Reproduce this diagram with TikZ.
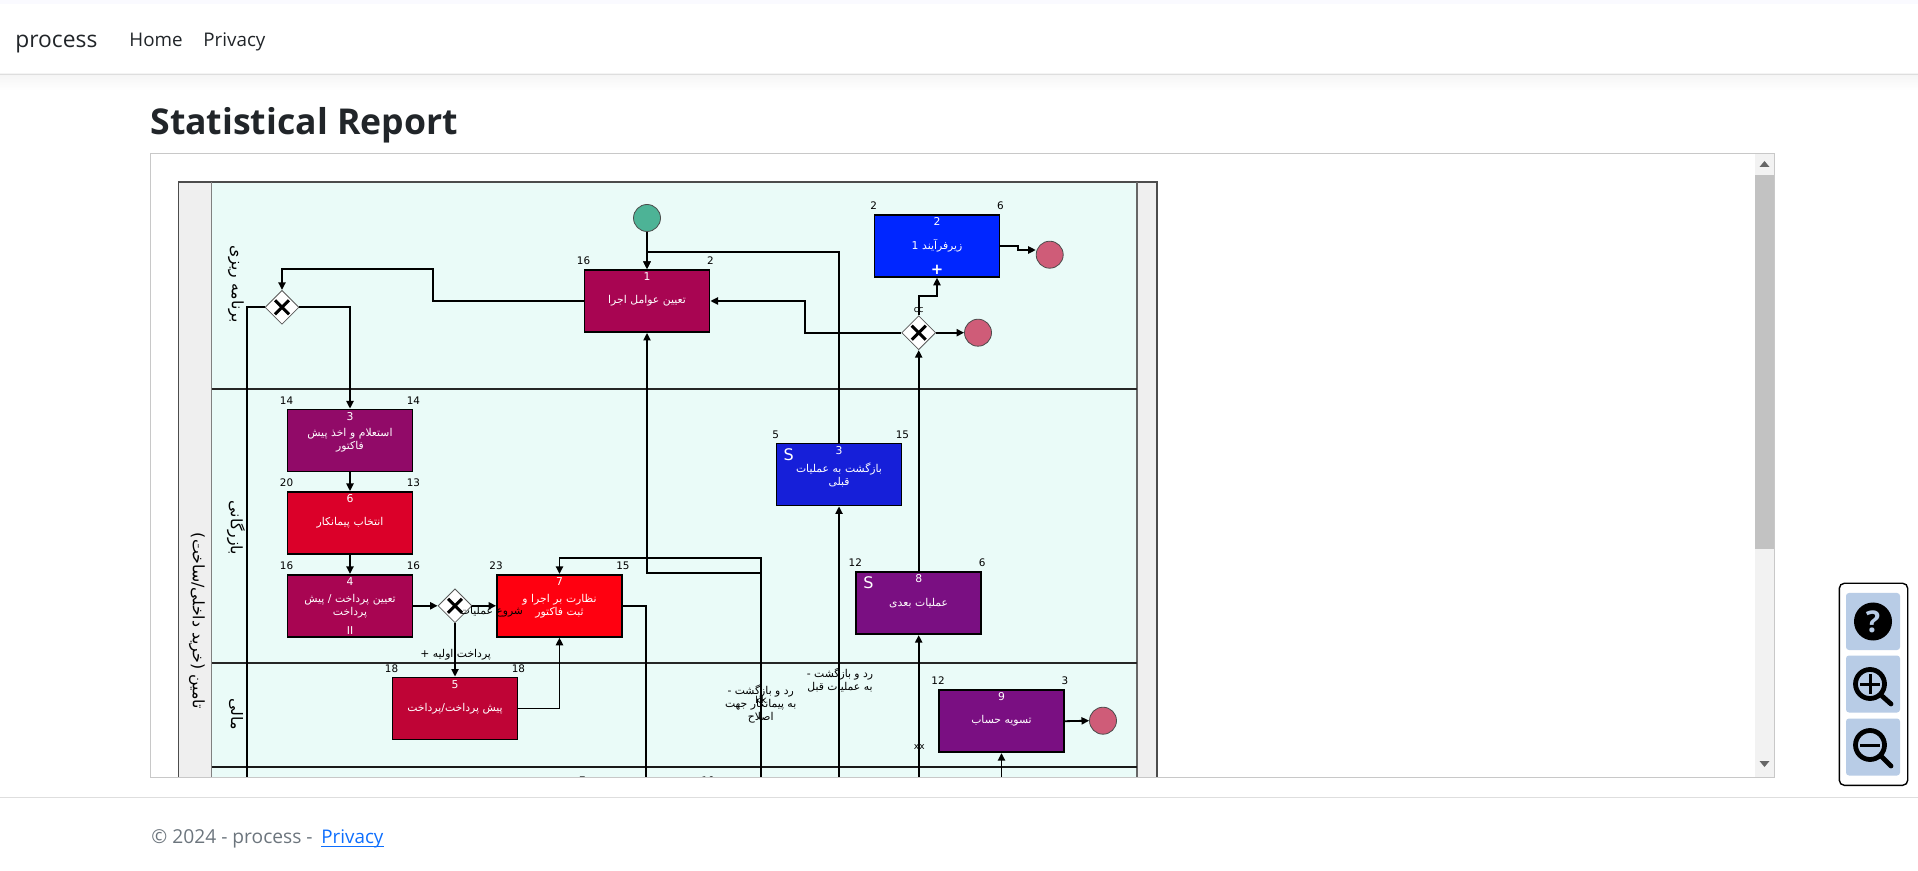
\documentclass[tikz,border=0pt]{standalone}
\usepackage{fontspec}
\setmainfont{Open Sans}
\newfontfamily\arabicfont[Script=Arabic]{DejaVu Sans}
\newfontfamily\numfont{DejaVu Sans}
\TeXXeTstate=1
\usetikzlibrary{arrows.meta,positioning,shapes.geometric}
\definecolor{lanebg}{HTML}{EAFBF8}
\definecolor{stripbg}{HTML}{EFEFEF}
\definecolor{framegray}{HTML}{C8C8C8}
\definecolor{startgreen}{HTML}{4DB396}
\definecolor{endrose}{HTML}{CF5C78}
\definecolor{wine}{HTML}{A80552}
\definecolor{plum}{HTML}{910A68}
\definecolor{crimson}{HTML}{DB0029}
\definecolor{brightred}{HTML}{FF0010}
\definecolor{rosered}{HTML}{BF0436}
\definecolor{royal}{HTML}{161FD9}
\definecolor{pureblue}{HTML}{0026FF}
\definecolor{violet}{HTML}{7A0F82}
\definecolor{toolblue}{HTML}{B8CCE6}
\definecolor{inkdark}{HTML}{212529}
\definecolor{footgray}{HTML}{6C757D}
\definecolor{linkblue}{HTML}{0D6EFD}
\newcommand{\fa}[1]{{\arabicfont\beginR #1\endR}}
\newcommand{\px}[1]{\fontsize{#1pt}{#1pt}\selectfont}

\begin{document}
\begin{tikzpicture}[
  x=0.5pt, y=-0.5pt,
  block/.style={draw=black, line width=0.9pt, minimum width=62.5pt,
    minimum height=31pt, inner sep=1pt, text width=60pt, align=center,
    text=white, font=\fontsize{5.4pt}{6.5pt}\selectfont},
  count/.style={inner sep=0pt, font=\numfont\fontsize{5.2pt}{5.5pt}\selectfont},
  taskid/.style={inner sep=0pt, text=white, font=\numfont\fontsize{5.4pt}{5.5pt}\selectfont},
  gate/.style={diamond, draw=black!65, fill=white, minimum width=17pt,
    minimum height=17pt, inner sep=0pt, path picture={
      \draw[black, line width=1.5pt] ([shift={(-3.5pt,-3.5pt)}]path picture bounding box.center)
        -- ([shift={(3.5pt,3.5pt)}]path picture bounding box.center);
      \draw[black, line width=1.5pt] ([shift={(-3.5pt,3.5pt)}]path picture bounding box.center)
        -- ([shift={(3.5pt,-3.5pt)}]path picture bounding box.center);}},
  endpt/.style={circle, draw=black!70, fill=endrose, minimum size=13.5pt, inner sep=0pt},
  arrow/.style={-{Stealth[length=3.8pt,width=3.6pt,inset=0pt]}, line width=0.9pt},
  wire/.style={line width=0.9pt},
  flowtext/.style={inner sep=0pt, align=center, text=black,
    font=\fontsize{5.4pt}{6.5pt}\selectfont},
  lanetext/.style={inner sep=0pt, rotate=-90, font=\fontsize{7.9pt}{8pt}\selectfont},
  toolbtn/.style={fill=toolblue, rounded corners=1.5pt, minimum width=27pt,
    minimum height=28.5pt, inner sep=0pt},
  lens/.style={circle, draw=black, line width=2.4pt, minimum size=14.5pt, inner sep=0pt}
]
\useasboundingbox (0,0) rectangle (1918,871);

% Page header
\fill[blue!2] (0,0) rectangle (1918,4);
\shade[top color=black!4, bottom color=white] (0,74) rectangle (1918,90);
\draw[black!13] (0,74) -- (1918,74);
\node[anchor=base west, inner sep=0pt, text=inkdark, font=\px{11.4}] (brand) at (15,48) {process};
\node[anchor=base west, inner sep=0pt, text=inkdark, font=\px{9.4}] (home) at (129,47) {Home};
\node[anchor=base west, inner sep=0pt, text=inkdark, font=\px{9.4}] (priv) at (203,47) {Privacy};
\node[anchor=base west, inner sep=0pt, text=inkdark, font=\bfseries\px{17.8}] (title) at (150,135) {Statistical Report};

% Scroll frame
\draw[framegray, line width=0.5pt] (150.5,153.5) rectangle (1774.5,777);
\fill[black!5] (1755,154) rectangle (1774,776.5);
\fill[black!24] (1755,175) rectangle (1774,549);
\fill[black!60] (1759.5,167) -- (1769.5,167) -- (1764.5,161) -- cycle;
\fill[black!60] (1759.5,761) -- (1769.5,761) -- (1764.5,767) -- cycle;

\begin{scope}
\clip (151,154) rectangle (1755,776.5);

% Pool and lanes
\fill[stripbg] (178.5,182) rectangle (1157,790);
\fill[lanebg] (211.5,182) rectangle (1137,790);
\draw[black!70, line width=0.7pt] (178.5,790) -- (178.5,182) -- (1157,182) -- (1157,790);
\draw[black!50, line width=0.8pt] (211.5,182) -- (211.5,790);
\draw[black!60, line width=0.7pt] (1137,182) -- (1137,790);
\draw[black!85, line width=0.6pt] (211.5,389) -- (1137,389);
\draw[black!85, line width=0.6pt] (211.5,663) -- (1137,663);
\draw[black!90, line width=0.6pt] (211.5,767) -- (1137,767);
\node[lanetext] (poolname) at (197,621) {\fa{تامین (خرید داخلی/ساخت)}};
\node[lanetext] (planlane) at (236,284) {\fa{برنامه ریزی}};
\node[lanetext] (tradelane) at (236,528) {\fa{بازرگانی}};
\node[lanetext] (financelane) at (236,714) {\fa{مالی}};

% Events
\node[circle, draw=black!70, fill=startgreen, minimum size=13.5pt, inner sep=0pt] (start) at (647,218) {};
\node[endpt] (endsub) at (1049.7,254.7) {};
\node[endpt] (endgate) at (978,332.7) {};
\node[endpt] (endpay) at (1103,720.7) {};

% Gateways
\node[gate] (gwplan) at (282,307.3) {};
\node[gate] (gwpay) at (455,605.8) {};
\node[gate] (gwnext) at (918.7,332.7) {};

% Tasks
\node[block, fill=wine] (deter) at (647,301) {\fa{تعیین عوامل اجرا}};
\node[block, fill=plum] (inquiry) at (350,440.5) {\fa{استعلام و اخذ پیش}\\\fa{فاکتور}};
\node[block, fill=crimson] (choose) at (350,523) {\fa{انتخاب پیمانکار}};
\node[block, fill=wine] (settle) at (350,605.8) {\fa{تعیین پرداخت / پیش}\\\fa{پرداخت}};
\node[block, fill=brightred] (watch) at (559.5,605.8) {\fa{نظارت بر اجرا و}\\\fa{ثبت فاکتور}};
\node[block, fill=rosered] (prepay) at (455,708.5) {\fa{پیش پرداخت/پرداخت}};
\node[block, fill=royal] (back) at (839,474.5) {\fa{بازگشت به عملیات}\\\fa{قبلی}};
\node[block, fill=pureblue] (subproc) at (937,245.8) {\fa{زیرفرآیند 1}};
\node[block, fill=violet] (nextop) at (918.7,603.2) {\fa{عملیات بعدی}};
\node[block, fill=violet] (account) at (1001.5,721.2) {\fa{تسویه حساب}};

% Task ids
\node[taskid, below=1.6pt of deter.north] (iddeter) {1};
\node[taskid, below=1.6pt of inquiry.north] (idinquiry) {3};
\node[taskid, below=1.6pt of choose.north] (idchoose) {6};
\node[taskid, below=1.6pt of settle.north] (idsettle) {4};
\node[taskid, below=1.6pt of watch.north] (idwatch) {7};
\node[taskid, below=1.6pt of prepay.north] (idprepay) {5};
\node[taskid, below=1.6pt of back.north] (idback) {3};
\node[taskid, below=1.6pt of subproc.north] (idsubproc) {2};
\node[taskid, below=1.6pt of nextop.north] (idnextop) {8};
\node[taskid, below=1.6pt of account.north] (idaccount) {9};

% Markers
\node[inner sep=0pt, text=white, font=\numfont\fontsize{5.4pt}{5.5pt}\selectfont, above=1.3pt of settle.south] (markpar) {II};
\node[inner sep=0pt, text=white, font=\numfont\bfseries\fontsize{7.4pt}{8pt}\selectfont, above=1.2pt of subproc.south] (marksub) {+};
\node[inner sep=0pt, text=white, font=\numfont\fontsize{8pt}{8pt}\selectfont, below right=2.6pt and 3.8pt of back.north west] (markback) {S};
\node[inner sep=0pt, text=white, font=\numfont\fontsize{8pt}{8pt}\selectfont, below right=2.6pt and 3.8pt of nextop.north west] (marknext) {S};

% Corner counts
\node[count, above=2pt of deter.north west] (c1) {16};
\node[count, above=2pt of deter.north east] (c2) {2};
\node[count, above=2pt of inquiry.north west] (c3) {14};
\node[count, above=2pt of inquiry.north east] (c4) {14};
\node[count, above=2pt of choose.north west] (c5) {20};
\node[count, above=2pt of choose.north east] (c6) {13};
\node[count, above=2pt of settle.north west] (c7) {16};
\node[count, above=2pt of settle.north east] (c8) {16};
\node[count, above=2pt of watch.north west] (c9) {23};
\node[count, above=2pt of watch.north east] (c10) {15};
\node[count, above=2pt of prepay.north west] (c11) {18};
\node[count, above=2pt of prepay.north east] (c12) {18};
\node[count, above=2pt of back.north west] (c13) {5};
\node[count, above=2pt of back.north east] (c14) {15};
\node[count, above=2pt of subproc.north west] (c15) {2};
\node[count, above=2pt of subproc.north east] (c16) {6};
\node[count, above=2pt of nextop.north west] (c17) {12};
\node[count, above=2pt of nextop.north east] (c18) {6};
\node[count, above=2pt of account.north west] (c19) {12};
\node[count, above=2pt of account.north east] (c20) {3};
\node[count] (c21) at (582.5,781) {7};
\node[count] (c22) at (708,781) {10};

% Bends and cut ends
\coordinate (bendplan) at (433,268.7);
\coordinate (bendwatch) at (559.5,558.3);
\coordinate (bendret) at (647,572.7);
\coordinate (bendback) at (647,252);
\coordinate (bendsub) at (937,295.7);
\coordinate (bendgate) at (805,301);
\coordinate (bendend) at (1018,250);
\coordinate (cutleft) at (247,776.5);
\coordinate (cutwatch) at (645.7,776.5);
\coordinate (cutret) at (760.7,776.5);
\coordinate (cutback) at (839,776.5);
\coordinate (cutnext) at (918.7,776.5);
\coordinate (cutacc) at (1001.5,776.5);

% Arrows
\draw[arrow] (start) -- (deter);
\draw[arrow] (deter.west) -| (bendplan) -| (gwplan.north);
\draw[arrow] (gwplan.east) -| (inquiry.north);
\draw[wire] (gwplan.west) -| (cutleft);
\draw[arrow] (inquiry) -- (choose);
\draw[arrow] (choose) -- (settle);
\draw[arrow] (settle.east) -- (gwpay.west);
\draw[arrow] (gwpay.east) -- (watch.west);
\draw[arrow] (gwpay.south) -- (prepay.north);
\draw[arrow] (prepay.east) -| (watch.south);
\draw[wire] (watch.east) -| (cutwatch);
\draw[arrow] (cutret) |- (bendwatch) -- (watch.north);
\draw[arrow] (cutret) |- (bendret) -- (deter.south);
\draw[arrow] (cutback) -- (back.south);
\draw[arrow] (back.north) |- (bendback) -- (deter.north);
\draw[arrow] (cutnext) -- (nextop.south);
\draw[arrow] (nextop.north) -- (gwnext.south);
\draw[arrow] (gwnext.north) |- (bendsub) -- (subproc.south);
\draw[arrow] (gwnext.west) -| (bendgate) -- (deter.east);
\draw[arrow] (gwnext) -- (endgate);
\draw[arrow] (subproc.east) -| (bendend) -- (bendend -| endsub.west);
\draw[arrow] (cutacc) -- (account.south);
\draw[arrow] (account.east) -- (endpay.west);

% Flow labels
\node[flowtext] (lblstart) at (491.5,611.5) {\fa{شروع عملیات}};
\node[flowtext] (lblfirst) at (455.7,654.5) {\fa{پرداخت اولیه +}};
\node[flowtext] (lblprev) at (840,680) {\fa{رد و بازگشت -}\\\fa{به عملیات قبل}};
\node[flowtext] (lblfix) at (760.7,704) {\fa{رد و بازگشت -}\\\fa{به پیمانکار جهت}\\\fa{اصلاح}};
\node[flowtext, font=\numfont\fontsize{4.8pt}{5pt}\selectfont] (lblkk) at (761,700) {kk};
\node[flowtext, font=\numfont\fontsize{4.5pt}{5pt}\selectfont] (lblcc) at (918.7,310) {cc};
\node[flowtext, font=\numfont\fontsize{4.5pt}{5pt}\selectfont] (lblxx) at (919.3,746.7) {xx};
\end{scope}

% Page footer
\draw[black!13] (0,797) -- (1918,797);
\node[anchor=base west, inner sep=0pt, text=footgray, font=\px{9.6}] (copy) at (151,843) {© 2024 - process -};
\node[anchor=base west, inner sep=0pt, text=linkblue, font=\px{9.4}] (privlink) at (321,843) {Privacy};
\draw[linkblue, line width=0.6pt] ([yshift=-1.6pt]privlink.base west) -- ([yshift=-1.6pt]privlink.base east);

% Zoom tools
\draw[black, line width=0.7pt, rounded corners=2.5pt, fill=white] (1839.3,583.3) rectangle (1907.7,785.3);
\node[toolbtn] (btnhelp) at (1873,621.5) {};
\node[toolbtn] (btnin) at (1873,684) {};
\node[toolbtn] (btnout) at (1873,747) {};
\node[circle, fill=black, minimum size=19pt, inner sep=0pt, text=toolblue,
  font=\bfseries\fontsize{15pt}{15pt}\selectfont] (help) at (btnhelp) {?};
\node[lens] (lensin) at (1870,684) {};
\node[lens] (lensout) at (1870,745) {};
\coordinate (gripin) at (1891,704);
\coordinate (gripout) at (1891,766);
\draw[line width=2.4pt, line cap=round] (lensin.south east) -- (gripin);
\draw[line width=2.4pt, line cap=round] (lensout.south east) -- (gripout);
\draw[line width=1.5pt] ([xshift=-5pt]lensin.center) -- ([xshift=5pt]lensin.center);
\draw[line width=1.5pt] ([yshift=-5pt]lensin.center) -- ([yshift=5pt]lensin.center);
\draw[line width=1.5pt] ([xshift=-5pt]lensout.center) -- ([xshift=5pt]lensout.center);

\end{tikzpicture}
\end{document}
